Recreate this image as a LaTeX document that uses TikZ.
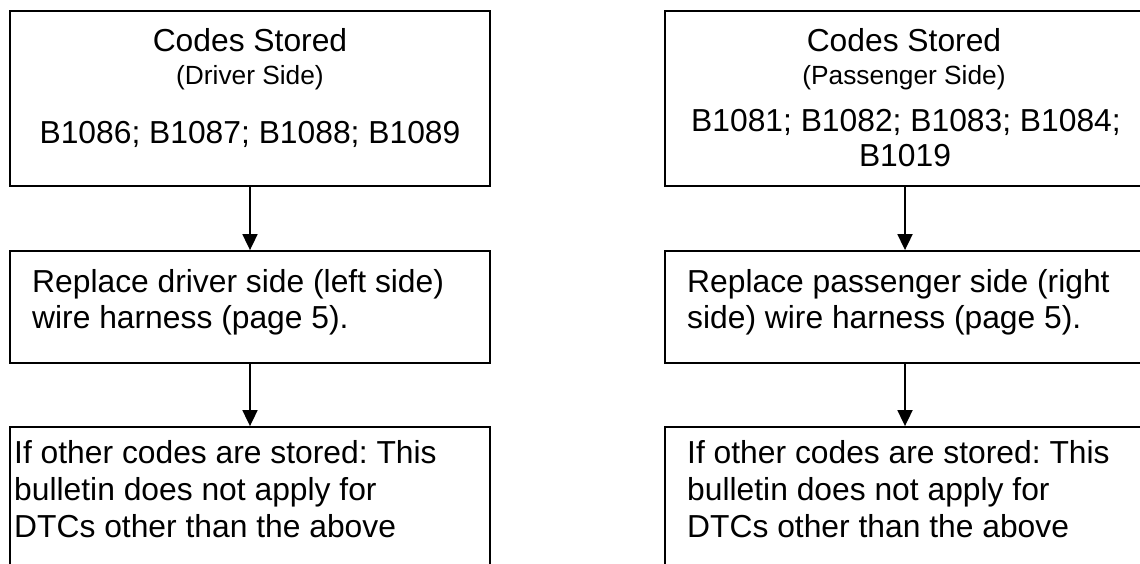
\documentclass[tikz,border=0pt]{standalone}
\usepackage{fontspec}
\setmainfont{Liberation Sans}
\usetikzlibrary{arrows.meta}
\frenchspacing
\begin{document}
\begin{tikzpicture}[x=1pt,y=1pt,
  box/.style={draw,line width=1.8pt,rectangle,inner sep=0pt,minimum width=480pt},
  big/.style={font=\fontsize{31.8}{37}\selectfont,inner sep=0pt,anchor=base},
  bigl/.style={font=\fontsize{31.8}{37}\selectfont,inner sep=0pt,anchor=base west},
  small/.style={font=\fontsize{26.3}{30}\selectfont,inner sep=0pt,anchor=base},
  arr/.style={line width=1.8pt,-{Triangle[length=16pt,width=15pt]}}]
\useasboundingbox (0,0) rectangle (1140,563);
\clip (0,0) rectangle (1140,563);
% boxes
\node[box,minimum height=175pt] (L1) at (250,464.5) {};
\node[box,minimum height=112pt] (L2) at (250,256) {};
\node[box,minimum height=193pt] (L3) at (250,39.5) {};
\node[box,minimum height=175pt] (R1) at (905,464.5) {};
\node[box,minimum height=112pt] (R2) at (905,256) {};
\node[box,minimum height=193pt] (R3) at (905,39.5) {};
% arrows
\draw[arr] (L1.south) -- (L2.north);
\draw[arr] (L2.south) -- (L3.north);
\draw[arr] (R1.south) -- (R2.north);
\draw[arr] (R2.south) -- (R3.north);
% left texts
\node[big] (l1a) at (250,511) {Codes Stored};
\node[small] (l1b) at (250,478) {(Driver Side)};
\node[big] (l1c) at (250,419) {B1086; B1087; B1088; B1089};
\node[bigl] (l2a) at (32,271) {Replace driver side (left side)};
\node[bigl] (l2b) at (32,235) {wire harness (page 5).};
\node[bigl] (l3a) at (14,100) {If other codes are stored: This};
\node[bigl] (l3b) at (14,63) {bulletin does not apply for};
\node[bigl] (l3c) at (14,26) {DTCs other than the above};
% right texts
\node[big] (r1a) at (904,511) {Codes Stored};
\node[small] (r1b) at (904,478) {(Passenger Side)};
\node[big] (r1c) at (906,431) {B1081; B1082; B1083; B1084;};
\node[big] (r1d) at (905,396) {B1019};
\node[bigl] (r2a) at (687,271) {Replace passenger side (right};
\node[bigl] (r2b) at (687,235) {side) wire harness (page 5).};
\node[bigl] (r3a) at (687,100) {If other codes are stored: This};
\node[bigl] (r3b) at (687,63) {bulletin does not apply for};
\node[bigl] (r3c) at (687,26) {DTCs other than the above};
\end{tikzpicture}
\end{document}
